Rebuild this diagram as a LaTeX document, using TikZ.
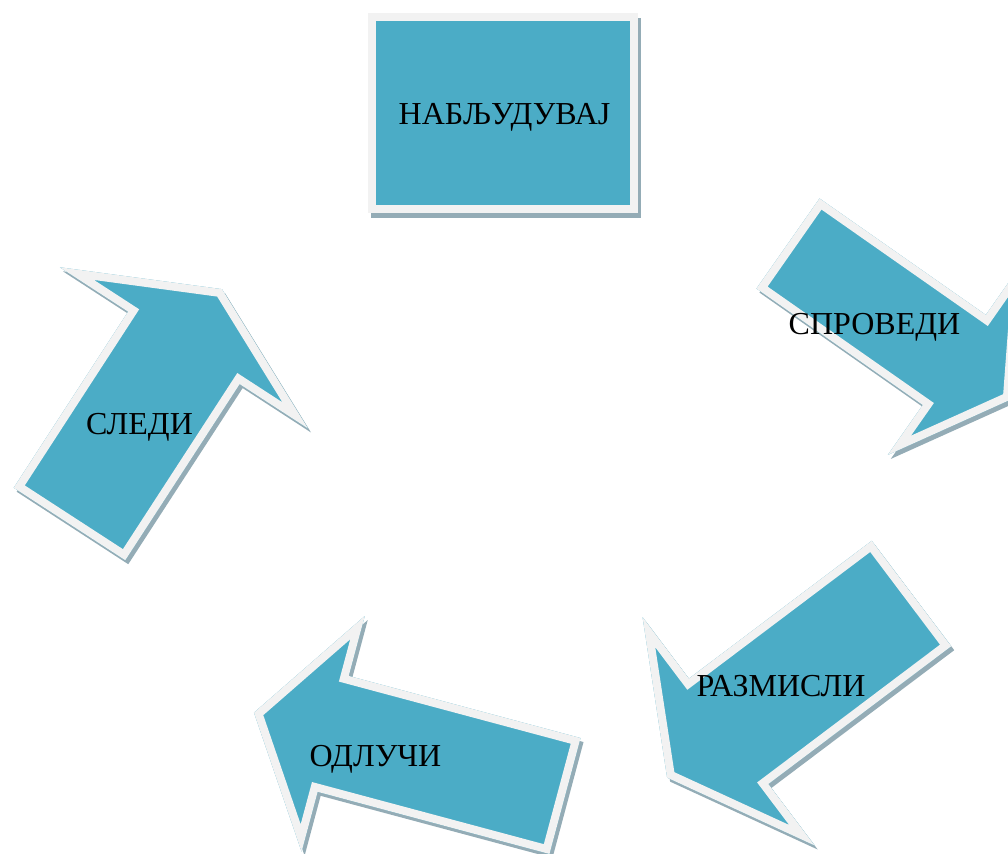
\documentclass[tikz,border=0pt]{standalone}
\usepackage{fontspec}
\setmainfont{Liberation Serif}
\usepackage{xcolor}

\definecolor{aquafill}{HTML}{4BACC6}
\definecolor{rimgrey}{HTML}{F2F2F2}
\definecolor{shadowgrey}{HTML}{94ACB6}

% outline of a block arrow: half shaft, head start, half head, tip
\newcommand{\arrowoutline}[4]{(0,-#1) -- (#2,-#1) -- (#2,-#3) -- (#4,0) -- (#2,#3) -- (#2,#1) -- (0,#1) -- cycle}
\newcommand{\cyclearrow}[6]{%
  \begin{scope}[shift={(3,4)}, shift={(#1)}, rotate=#2]
    \fill[shadowgrey] \arrowoutline{#3}{#4}{#5}{#6};
  \end{scope}
  \begin{scope}[shift={(#1)}, rotate=#2]
    \fill[aquafill] \arrowoutline{#3}{#4}{#5}{#6};
    \clip \arrowoutline{#3}{#4}{#5}{#6};
    \draw[rimgrey, line width=8pt, line join=miter] \arrowoutline{#3}{#4}{#5}{#6};
  \end{scope}}

\tikzset{
  lbl/.style={anchor=base, inner sep=0pt, font=\fontsize{16}{19}\selectfont},
}

\begin{document}
\begin{tikzpicture}[x=0.5pt, y=-0.5pt]
		\useasboundingbox (0,0) rectangle (1008,854);
		\clip (0,0) rectangle (1008,854);
		% box on top
		\fill[shadowgrey] (371,18) rectangle (641,218);
		\fill[rimgrey] (368,13) rectangle (638,213);
		\fill[aquafill] (376,21) rectangle (630,205);
		\node[lbl] (nabl) at (504.5,125) {НАБЉУДУВАЈ};
		% the four arrows
		\cyclearrow{788,243.5}{-35}{55}{203}{116}{272}
		\cyclearrow{911.5,593.5}{217}{66}{229}{143}{306}
		\cyclearrow{565,796}{165}{60}{240}{122}{322}
		\cyclearrow{69.5,524}{57}{66.5}{210}{148}{280}
		\node[lbl] (sprov) at (874.5,335) {СПРОВЕДИ};
		\node[lbl] (razm) at (781,697) {РАЗМИСЛИ};
		\node[lbl] (odl) at (375.5,767) {ОДЛУЧИ};
		\node[lbl] (sled) at (139.5,435) {СЛЕДИ};
		\end{tikzpicture}
\end{document}
